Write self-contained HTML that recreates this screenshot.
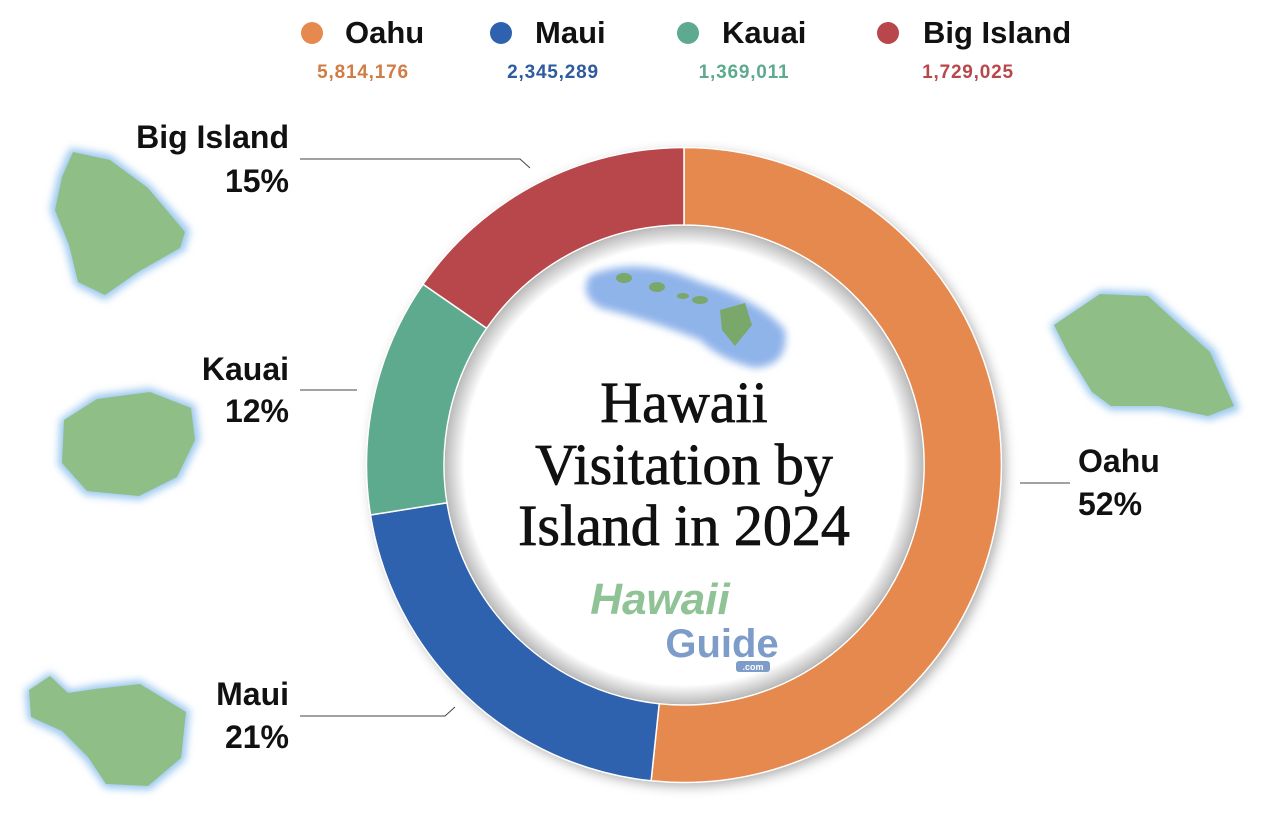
<!DOCTYPE html>
<html><head><meta charset="utf-8"><style>
html,body{margin:0;padding:0;background:#fff;}
svg{display:block;}
.b{font-family:"Liberation Sans",sans-serif;font-weight:bold;}
</style></head><body>
<svg width="1267" height="835" viewBox="0 0 1267 835" xmlns="http://www.w3.org/2000/svg">
<defs>
<filter id="sh" x="-20%" y="-20%" width="140%" height="140%"><feGaussianBlur stdDeviation="6"/></filter>
<filter id="gl" x="-30%" y="-30%" width="160%" height="160%"><feGaussianBlur stdDeviation="4"/></filter>
<radialGradient id="ig" cx="50%" cy="50%" r="50%"><stop offset="0.92" stop-color="#fff"/><stop offset="1" stop-color="#bbb"/></radialGradient>
</defs>
<circle cx="688" cy="469" r="317" fill="#888" filter="url(#sh)" opacity="0.7"/>
<path d="M684,147.5 A317.5,317.5 0 1 1 651.1,780.8 L659.2,703.7 A240,240 0 1 0 684,225 Z" fill="#E6894E" stroke="#fff" stroke-width="1.5"/>
<path d="M651.1,780.8 A317.5,317.5 0 0 1 370.5,515 L447,502.8 A240,240 0 0 0 659.2,703.7 Z" fill="#2E62AE" stroke="#fff" stroke-width="1.5"/>
<path d="M370.5,515 A317.5,317.5 0 0 1 423,284.2 L486.7,328.3 A240,240 0 0 0 447,502.8 Z" fill="#5EAA8E" stroke="#fff" stroke-width="1.5"/>
<path d="M423,284.2 A317.5,317.5 0 0 1 684,147.5 L684,225 A240,240 0 0 0 486.7,328.3 Z" fill="#B8474B" stroke="#fff" stroke-width="1.5"/>
<circle cx="684" cy="465" r="239" fill="url(#ig)"/>
<g filter="url(#gl)"><path d="M590,275 Q640,255 700,282 Q760,300 785,330 Q790,365 755,368 Q720,360 700,340 Q650,320 600,308 Q578,295 590,275Z" fill="#8fb4ea"/></g>
<g fill="#7aa86a"><ellipse cx="624" cy="278" rx="8" ry="5"/><ellipse cx="657" cy="287" rx="8" ry="5"/><ellipse cx="683" cy="296" rx="6" ry="3"/><ellipse cx="700" cy="300" rx="8" ry="4"/><path d="M720,310 L745,303 L752,325 L735,346 L722,330Z"/></g>
<g font-family="'Liberation Serif',serif" font-size="58" text-anchor="middle" fill="#111" stroke="#111" stroke-width="0.8">
<text x="684" y="422">Hawaii</text><text x="684" y="484">Visitation by</text><text x="684" y="545">Island in 2024</text></g>
<text x="660" y="614" text-anchor="middle" font-family="'Liberation Sans',sans-serif" font-style="italic" font-weight="bold" font-size="44" fill="#8fc295">Hawaii</text>
<text x="722" y="657" text-anchor="middle" font-family="'Liberation Sans',sans-serif" font-weight="bold" font-size="40" fill="#7d9cc9">Guide</text>
<rect x="736" y="661" width="34" height="11" rx="3" fill="#7d9cc9"/><text x="753" y="670" text-anchor="middle" font-family="'Liberation Sans',sans-serif" font-size="9" fill="#fff" font-weight="bold">.com</text>
<g stroke="#444" stroke-width="1" fill="none">
<polyline points="300,159 520,159 530,168"/>
<polyline points="300,390 357,390"/>
<polyline points="300,716 445,716 455,707"/>
<polyline points="1020,483 1070,483"/>
</g>
<g class="b" font-size="32" fill="#111">
<text x="289" y="148" text-anchor="end">Big Island</text><text x="289" y="192" text-anchor="end">15%</text>
<text x="289" y="380" text-anchor="end">Kauai</text><text x="289" y="422" text-anchor="end">12%</text>
<text x="289" y="705" text-anchor="end">Maui</text><text x="289" y="748" text-anchor="end">21%</text>
<text x="1078" y="472">Oahu</text><text x="1078" y="515">52%</text>
</g>
<g class="b" font-size="31" fill="#111">
<circle cx="312" cy="33" r="11" fill="#E6894E"/><text x="345" y="43">Oahu</text>
<circle cx="501" cy="33" r="11" fill="#2E62AE"/><text x="535" y="43">Maui</text>
<circle cx="688" cy="33" r="11" fill="#5EAA8E"/><text x="722" y="43">Kauai</text>
<circle cx="888" cy="33" r="11" fill="#B8474B"/><text x="923" y="43">Big Island</text>
</g>
<g class="b" font-size="19" text-anchor="middle" letter-spacing="0.8">
<text x="363" y="78" fill="#D07C45">5,814,176</text>
<text x="553" y="78" fill="#2E5A9E">2,345,289</text>
<text x="744" y="78" fill="#5EAA8E">1,369,011</text>
<text x="968" y="78" fill="#B8474B">1,729,025</text>
</g>
<g filter="url(#gl)" fill="#9cc8f0">
<path d="M70,148 L110,155 L150,185 L190,230 L185,250 L140,275 L105,300 L75,285 L65,245 L50,210 L58,175Z"/>
<path d="M60,420 L95,395 L150,388 L195,405 L200,440 L180,480 L140,500 L85,495 L58,465Z"/>
<path d="M25,690 L50,672 L70,690 L95,685 L140,680 L190,710 L185,760 L150,790 L105,788 L85,760 L60,735 L28,720Z"/>
<path d="M1050,325 L1100,290 L1150,292 L1175,315 L1215,350 L1240,410 L1210,420 L1160,410 L1110,410 L1090,395 L1065,355Z"/>
</g>
<g fill="#8fbf86">
<path d="M73,152 L110,160 L148,188 L185,232 L180,248 L138,272 L105,295 L78,282 L69,245 L55,210 L62,177Z"/>
<path d="M64,420 L97,399 L150,392 L191,408 L195,440 L177,477 L139,496 L87,491 L62,463Z"/>
<path d="M29,690 L50,676 L68,693 L95,689 L140,684 L186,712 L181,758 L148,786 L106,784 L88,757 L62,731 L31,717Z"/>
<path d="M1054,325 L1100,294 L1148,296 L1172,318 L1210,352 L1234,406 L1208,416 L1160,406 L1111,406 L1092,392 L1068,353Z"/>
</g>
</svg>
</body></html>
